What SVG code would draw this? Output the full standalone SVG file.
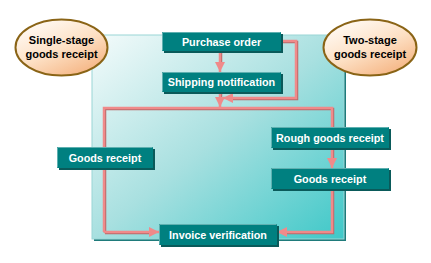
<svg xmlns="http://www.w3.org/2000/svg" width="431" height="263" viewBox="0 0 431 263">
<defs>
<linearGradient id="panelG" x1="0" y1="0" x2="1" y2="1">
<stop offset="0" stop-color="#f4fbfb"/>
<stop offset="0.5" stop-color="#a8e0e0"/>
<stop offset="1" stop-color="#3ec8c8"/>
</linearGradient>
<linearGradient id="ellG" x1="0.2" y1="0.1" x2="0.8" y2="0.95">
<stop offset="0" stop-color="#fff8f0"/>
<stop offset="0.5" stop-color="#fde0c4"/>
<stop offset="1" stop-color="#f5b584"/>
</linearGradient>
<marker id="ah" viewBox="0 0 10 10" refX="10" refY="5" markerWidth="10" markerHeight="10" markerUnits="userSpaceOnUse" orient="auto">
<path d="M0,0 L10,5 L0,10 Z" fill="#f08a8a"/>
</marker>
</defs>
<style>
.box{fill:#008080;stroke:none}
.boxsh{fill:#0a5a5a}
.boxhl{fill:none;stroke:#5fb0b0;stroke-width:1}
.bt{font-family:"Liberation Sans",Arial,sans-serif;font-weight:bold;font-size:10.8px;fill:#ffffff;text-anchor:middle}
.et{font-family:"Liberation Sans",Arial,sans-serif;font-weight:bold;font-size:11px;fill:#000000;text-anchor:middle}
.ell{fill:url(#ellG);stroke:#8a6416;stroke-width:2}
.ln{fill:none;stroke:#f08a8a;stroke-width:2.5}
.lnsh{fill:none;stroke:#b86a6a;stroke-width:2.5}
</style>
<rect width="431" height="263" fill="#ffffff"/>

<g id="panel">
<rect x="94" y="37" width="252" height="204" fill="#1f7b7b"/>
<rect x="92" y="35" width="252" height="204" fill="url(#panelG)" stroke="#9ad6d6" stroke-width="1"/>
</g>

<g id="connectors">
<g transform="translate(1,1)">
<path class="lnsh" d="M220,51 V63"/>
<path class="lnsh" d="M281,41 H296 V98 H232"/>
<path class="lnsh" d="M220,92 V98"/>
<path class="lnsh" d="M104,232 V108 H332 V127"/>
<path class="lnsh" d="M332,148 V160"/>
<path class="lnsh" d="M332,189 V232 H286"/>
<path class="lnsh" d="M104,232 H150"/>
</g>
<path class="ln" d="M220,51 V72" marker-end="url(#ah)"/>
<path class="ln" d="M281,41 H296 V98 H223" marker-end="url(#ah)"/>
<path class="ln" d="M220,92 V107" marker-end="url(#ah)"/>
<path class="ln" d="M104,232 V108 H332 V127"/>
<path class="ln" d="M332,148 V168" marker-end="url(#ah)"/>
<path class="ln" d="M332,189 V232 H277" marker-end="url(#ah)"/>
<path class="ln" d="M104,232 H159" marker-end="url(#ah)"/>
</g>

<g id="single-stage">
<ellipse class="ell" cx="61.5" cy="47.5" rx="46" ry="28"/>
<text class="et" x="61.5" y="44">Single-stage</text>
<text class="et" x="61.5" y="58">goods receipt</text>
</g>

<g id="two-stage">
<ellipse class="ell" cx="370" cy="47.5" rx="46.5" ry="28"/>
<text class="et" x="370" y="44">Two-stage</text>
<text class="et" x="370" y="58">goods receipt</text>
</g>

<g id="purchase-order">
<rect class="boxsh" x="164" y="34" width="119" height="19"/>
<rect class="box" x="162" y="32" width="119" height="19"/>
<path class="boxhl" d="M162.5,50.5 V32.5 H280.5"/>
<text class="bt" x="221.5" y="45.5">Purchase order</text>
</g>

<g id="shipping-notification">
<rect class="boxsh" x="164" y="74" width="119" height="20"/>
<rect class="box" x="162" y="72" width="119" height="20"/>
<path class="boxhl" d="M162.5,91.5 V72.5 H280.5"/>
<text class="bt" x="221.5" y="86">Shipping notification</text>
</g>

<g id="goods-receipt-left">
<rect class="boxsh" x="59" y="149" width="96" height="21"/>
<rect class="box" x="57" y="147" width="96" height="21"/>
<path class="boxhl" d="M57.5,167.5 V147.5 H152.5"/>
<text class="bt" x="105" y="161.5">Goods receipt</text>
</g>

<g id="rough-goods-receipt">
<rect class="boxsh" x="273" y="129" width="118" height="21"/>
<rect class="box" x="271" y="127" width="118" height="21"/>
<path class="boxhl" d="M271.5,147.5 V127.5 H388.5"/>
<text class="bt" x="330" y="141.5">Rough goods receipt</text>
</g>

<g id="goods-receipt-right">
<rect class="boxsh" x="273" y="170" width="118" height="21"/>
<rect class="box" x="271" y="168" width="118" height="21"/>
<path class="boxhl" d="M271.5,188.5 V168.5 H388.5"/>
<text class="bt" x="330" y="182.5">Goods receipt</text>
</g>

<g id="invoice-verification">
<rect class="boxsh" x="161" y="226" width="118" height="21"/>
<rect class="box" x="159" y="224" width="118" height="21"/>
<path class="boxhl" d="M159.5,244.5 V224.5 H276.5"/>
<text class="bt" x="218" y="238.5">Invoice verification</text>
</g>
</svg>
